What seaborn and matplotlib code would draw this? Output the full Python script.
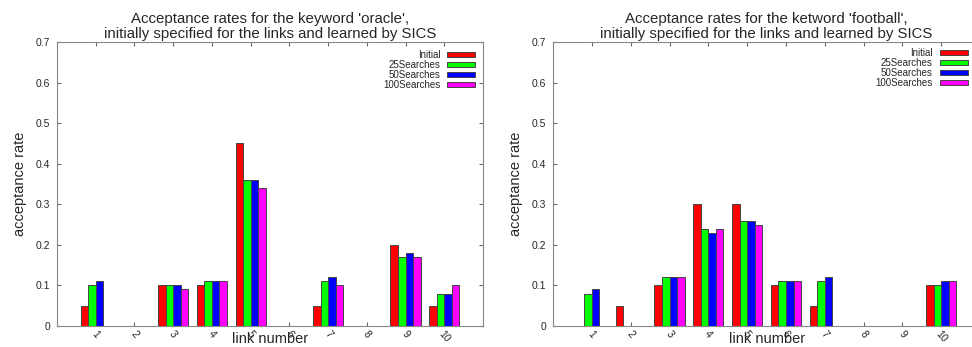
import seaborn as sns
import pandas as pd
import numpy as np
import matplotlib.pyplot as plt

# data
links = [str(i) for i in range(1, 11)]
series = ['Initial', '25Searches', '50Searches', '100Searches']

oracle_initial = [0.05, 0, 0.10, 0.10, 0.45, 0, 0.05, 0, 0.20, 0.05]
oracle_25 = [0.10, 0, 0.10, 0.11, 0.36, 0, 0.11, 0, 0.17, 0.08]
oracle_50 = [0.11, 0, 0.10, 0.11, 0.36, 0, 0.12, 0, 0.18, 0.08]
oracle_100 = [0, 0, 0.09, 0.11, 0.34, 0, 0.10, 0, 0.17, 0.10]

football_initial = [0, 0.05, 0.10, 0.30, 0.30, 0.10, 0.05, 0, 0, 0.10]
football_25 = [0.08, 0, 0.12, 0.24, 0.26, 0.11, 0.11, 0, 0, 0.10]
football_50 = [0.09, 0, 0.12, 0.23, 0.26, 0.11, 0.12, 0, 0, 0.11]
football_100 = [0, 0, 0.12, 0.24, 0.25, 0.11, 0, 0, 0, 0.11]

titles = ["Acceptance rates for the keyword 'oracle',\ninitially specified for the links and learned by SICS",
          "Acceptance rates for the ketword 'football',\ninitially specified for the links and learned by SICS"]

palette = ['#ff0000', '#00ff00', '#0000ff', '#ff00ff']


def to_long(cols):
    rows = []
    for name, vals in zip(series, cols):
        for link, v in zip(links, vals):
            rows.append({'link': link, 'series': name, 'rate': v})
    return pd.DataFrame(rows)


sns.set_style('ticks')
plt.rcParams['font.family'] = ['Liberation Sans', 'DejaVu Sans']
plt.rcParams['xtick.direction'] = 'in'
plt.rcParams['ytick.direction'] = 'in'

fig = plt.figure(figsize=(9.72, 3.47), dpi=100)
ax1 = fig.add_axes([0.0586, 0.0605, 0.4384, 0.8185])
# right panel runs past the image edge, as in the reference
ax2 = fig.add_axes([0.569, 0.0605, 0.4393, 0.8185])

datasets = [
    to_long([oracle_initial, oracle_25, oracle_50, oracle_100]),
    to_long([football_initial, football_25, football_50, football_100]),
]

for i, (ax, df, title) in enumerate(zip([ax1, ax2], datasets, titles)):
    sns.barplot(data=df, x='link', y='rate', hue='series', palette=palette,
                saturation=1, width=0.78, gap=0.0, edgecolor='#444444',
                linewidth=0.7, ax=ax)
    ax.set_xlim(-1, 10)
    ax.set_ylim(0, 0.7)
    ax.set_yticks(np.arange(0, 0.71, 0.1))
    ax.set_yticklabels(['0'] + ['%.1f' % v for v in np.arange(0.1, 0.71, 0.1)], fontsize=7.5)
    ax.tick_params(axis='x', labelsize=7.5, rotation=-50, pad=2)
    ax.tick_params(axis='y', pad=5)
    ax.tick_params(top=True, right=True, length=3, color='#666666')
    for lab in ax.get_xticklabels():
        lab.set_ha('center')
    for s in ax.spines.values():
        s.set_color('#888888')
        s.set_linewidth(0.8)
    ax.set_xlabel('link number', fontsize=10.5, labelpad=-9)
    ax.set_ylabel('acceptance rate', fontsize=10.5, labelpad=6)
    ax.set_title(title, fontsize=10.8, pad=3, linespacing=1.05)
    ax.legend(loc='upper right', frameon=False, markerfirst=False,
              fontsize=7, handlelength=2.9, handleheight=0.5,
              labelspacing=0.0, handletextpad=0.7,
              borderaxespad=0.4 if i == 0 else 0.2,
              bbox_to_anchor=(1.0, 1.0) if i == 0 else (0.985, 1.0))

fig.savefig('out.png', dpi=100)
